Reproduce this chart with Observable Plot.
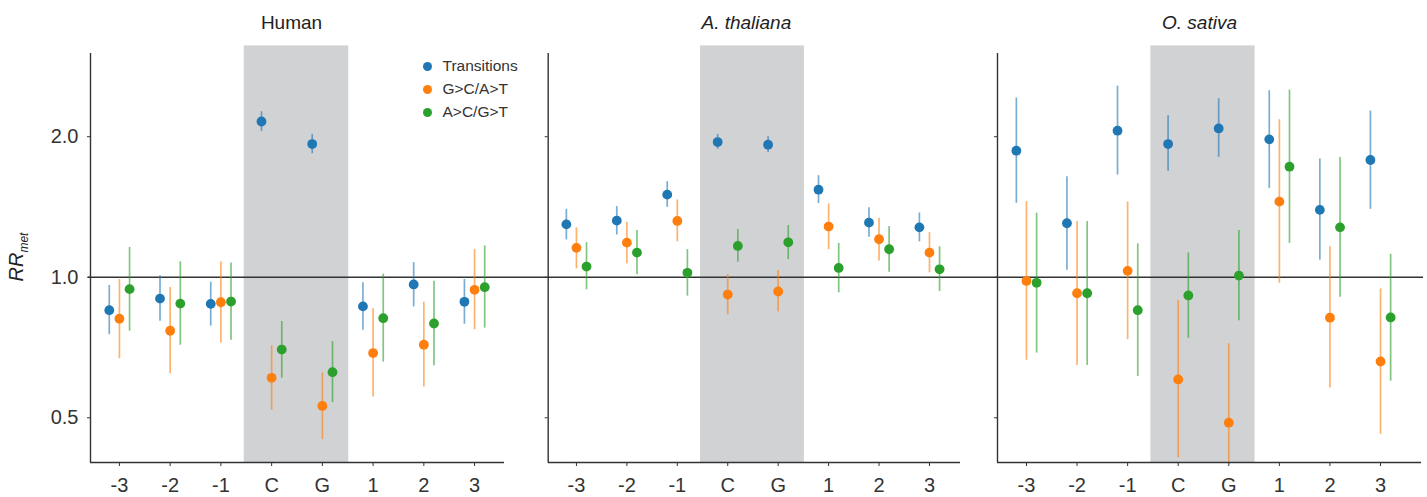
<!DOCTYPE html>
<html><head><meta charset="utf-8">
<script src="https://cdn.jsdelivr.net/npm/d3@7"></script>
<script src="https://cdn.jsdelivr.net/npm/@observablehq/plot@0.6"></script>
<style>
body{margin:0;background:#fff;}
#chart{position:relative;width:1427px;height:497px;display:flex;font-family:"Liberation Sans",Arial,sans-serif;}
#ylab{position:absolute;left:18px;top:257px;transform:translate(-50%,-50%) rotate(-90deg);font-size:20px;font-style:italic;color:#222;white-space:nowrap;line-height:1;}
#ylab sub{font-size:12px;}
</style></head><body>
<div id="chart"><div id="ylab">RR<sub>met</sub></div></div>
<script>
const positions = ["-3","-2","-1","C","G","1","2","3"];
const species = ["Human","A. thaliana","O. sativa"];
const seriesNames = ["Transitions","G>C/A>T","A>C/G>T"];
const seriesColors = ["#1f77b4","#ff7f0e","#2ca02c"];
const shaded = ["C","G"];
const yTicks = [0.5, 1, 2];

// rows: Transitions, G>C/A>T, A>C/G>T ; columns follow positions
const humanValue = [
  [0.850,0.900,0.877,2.156,1.929,0.866,0.965,0.886],
  [0.815,0.768,0.884,0.609,0.530,0.688,0.717,0.940],
  [0.943,0.878,0.887,0.700,0.626,0.817,0.796,0.952]];
const humanLower = [
  [0.753,0.805,0.786,2.053,1.839,0.770,0.864,0.793],
  [0.669,0.621,0.722,0.519,0.449,0.554,0.582,0.772],
  [0.766,0.715,0.733,0.608,0.539,0.658,0.646,0.778]];
const humanUpper = [
  [0.960,1.007,0.976,2.262,2.023,0.973,1.075,0.989],
  [0.989,0.951,1.080,0.713,0.624,0.856,0.884,1.146],
  [1.158,1.079,1.073,0.804,0.728,1.015,0.981,1.167]];

const thalianaValue = [
  [1.298,1.322,1.503,1.948,1.923,1.540,1.309,1.279],
  [1.156,1.186,1.320,0.918,0.932,1.284,1.206,1.129],
  [1.054,1.129,1.022,1.167,1.188,1.047,1.148,1.040]];
const thalianaLower = [
  [1.202,1.232,1.412,1.879,1.851,1.438,1.218,1.191],
  [1.042,1.068,1.191,0.831,0.843,1.145,1.084,1.022],
  [0.940,1.012,0.911,1.077,1.091,0.926,1.025,0.932]];
const thalianaUpper = [
  [1.398,1.417,1.602,2.023,2.000,1.650,1.408,1.373],
  [1.276,1.311,1.464,1.012,1.034,1.436,1.337,1.246],
  [1.186,1.259,1.146,1.265,1.290,1.182,1.284,1.162]];

const sativaValue = [
  [1.867,1.305,2.060,1.929,2.083,1.974,1.394,1.783],
  [0.982,0.924,1.032,0.604,0.488,1.452,0.819,0.660],
  [0.973,0.924,0.850,0.914,1.008,1.725,1.279,0.820]];
const sativaLower = [
  [1.440,1.035,1.656,1.686,1.806,1.550,1.088,1.398],
  [0.664,0.647,0.735,0.410,0.401,0.971,0.579,0.461],
  [0.688,0.647,0.613,0.740,0.807,1.182,0.906,0.599]];
const sativaUpper = [
  [2.420,1.642,2.567,2.218,2.412,2.509,1.792,2.270],
  [1.452,1.316,1.450,0.892,0.720,2.175,1.162,0.944],
  [1.371,1.316,1.179,1.128,1.259,2.517,1.804,1.120]];

const yDomain = [0.401, 3.015];
const bandTop = 3.13;

function rowsFor(values, lowers, uppers) {
  const rows = [];
  seriesNames.forEach((name, s) => {
    positions.forEach((p, i) => {
      rows.push({pos: p, idx: i, s, series: name, value: values[s][i], lower: lowers[s][i], upper: uppers[s][i]});
    });
  });
  return rows;
}

function panel(cfg) {
  const rows = rowsFor(cfg.values, cfg.lowers, cfg.uppers);
  const xpos = d => d.idx + (d.s - 1) * 0.2;
  const band = [{x1: positions.indexOf(shaded[0]) - 0.54, x2: positions.indexOf(shaded[1]) + 0.52, y1: yDomain[0], y2: bandTop}];
  const marks = [
    Plot.rect(band, {x1: "x1", x2: "x2", y1: "y1", y2: "y2", fill: "#d1d2d4"}),
    Plot.ruleY([1], {stroke: "#333", strokeWidth: 1.5, insetLeft: -cfg.extLeft, insetRight: -cfg.extRight}),
    Plot.ruleX(rows, {x: xpos, y1: "lower", y2: "upper", stroke: "series", strokeOpacity: 0.6, strokeWidth: 1.7}),
    Plot.dot(rows, {x: xpos, y: "value", fill: "series", r: 4.9}),
    Plot.ruleX([cfg.xDomain[0]], {stroke: "#333", strokeWidth: 1.4}),
    Plot.ruleY([yDomain[0]], {stroke: "#333", strokeWidth: 1.4}),
    Plot.text([cfg.title], {frameAnchor: "top", lineAnchor: "middle", dy: -31, dx: cfg.titleDx, fontSize: 19, fontStyle: cfg.italic ? "italic" : "normal", fill: "#222"})
  ];
  if (cfg.legend) {
    seriesNames.forEach((n, i) => {
      marks.push(Plot.dot([n], {frameAnchor: "top-right", dx: -77, dy: 13 + i * 23, fill: d => d, r: 4.5}));
      marks.push(Plot.text([n], {frameAnchor: "top-right", lineAnchor: "middle", dx: -62, dy: 13 + i * 23, text: d => d, textAnchor: "start", fontSize: 15.5, fill: "#333"}));
    });
  }
  return Plot.plot({
    width: cfg.width, height: 497,
    marginLeft: cfg.marginLeft, marginRight: cfg.marginRight, marginTop: 53, marginBottom: 35,
    style: {fontFamily: "Liberation Sans, Arial, sans-serif", fontSize: "20px", color: "#333", background: "white", overflow: "visible"},
    x: {type: "linear", domain: cfg.xDomain, ticks: d3.range(positions.length), tickFormat: i => positions[i], tickSize: 4, tickPadding: 11, label: null},
    y: {type: "log", domain: yDomain, ticks: yTicks, tickFormat: cfg.yLabels ? d3.format(".1f") : () => "", tickSize: 3, tickPadding: 9, label: null},
    color: {domain: seriesNames, range: seriesColors},
    marks
  });
}

const chart = document.getElementById("chart");
chart.appendChild(panel({title: species[0], italic: false, values: humanValue, lowers: humanLower, uppers: humanUpper,
  width: 525, marginLeft: 90, marginRight: 21, xDomain: [-0.57, 7.59], extLeft: 2, extRight: 21, yLabels: true, legend: true, titleDx: -6}));
chart.appendChild(panel({title: species[1], italic: true, values: thalianaValue, lowers: thalianaLower, uppers: thalianaUpper,
  width: 450, marginLeft: 22.7, marginRight: 15, xDomain: [-0.56, 7.615], extLeft: 22.7, extRight: 15, yLabels: false, legend: false, titleDx: -8}));
chart.appendChild(panel({title: species[2], italic: true, values: sativaValue, lowers: sativaLower, uppers: sativaUpper,
  width: 452, marginLeft: 22, marginRight: 6, xDomain: [-0.573, 7.81], extLeft: 22, extRight: 2, yLabels: false, legend: false, titleDx: -10}));
</script>
</body></html>
